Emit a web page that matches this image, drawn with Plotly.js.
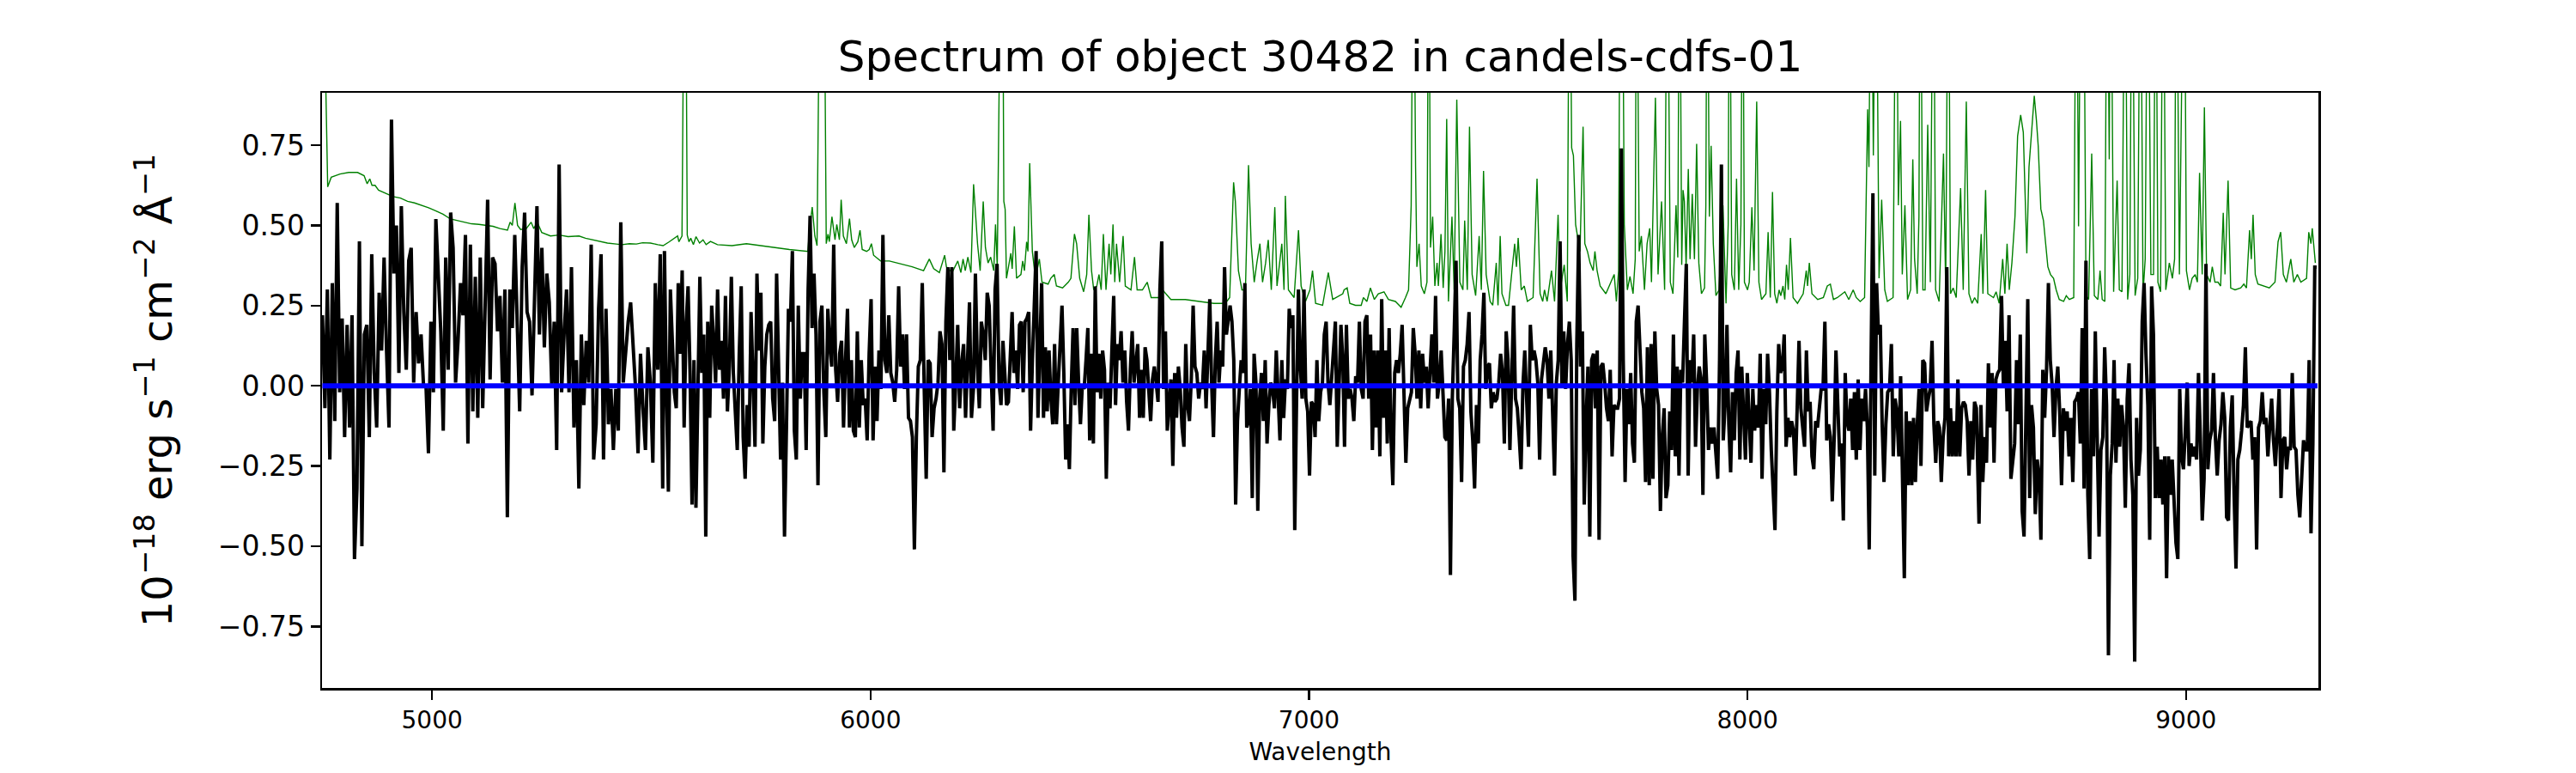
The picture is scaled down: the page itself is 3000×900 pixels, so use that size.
<!DOCTYPE html>
<html>
<head>
<meta charset="utf-8">
<script src="https://cdn.plot.ly/plotly-3.0.1.min.js"></script>
<style>html,body{margin:0;padding:0;background:#fff;}#chart{width:3000px;height:900px;}</style>
</head>
<body>
<div id="chart"></div>
<script>
// Wavelength ranges of the six read-off segments (Angstrom)
const segStart = [4750, 5530, 6306, 7081, 7852, 8528];
const segEnd   = [5526, 6302, 7077, 7848, 8522, 9298];

// Observed flux (1e-18 erg/s/cm2/A), black line, per segment
const flux1 = [0.22,-0.07,0.30,-0.23,0.32,-0.11,0.57,-0.02,0.21,-0.16,
0.19,-0.13,0.22,-0.54,-0.32,0.45,-0.50,0.16,0.19,-0.16,
0.41,0.04,-0.13,0.29,0.11,0.40,0.11,-0.13,0.83,0.35,
0.50,0.04,0.56,0.23,0.05,0.39,0.43,0.01,0.23,0.07,
0.16,0.00,0.00,-0.21,0.20,-0.02,0.52,0.35,0.17,-0.14,
0.40,0.05,0.54,0.43,0.01,0.14,0.32,0.22,0.47,-0.18,
0.44,-0.08,0.34,-0.10,0.40,-0.07,0.24,0.58,0.02,0.40,
0.38,0.17,0.28,0.01,0.30,-0.41,0.30,0.18,0.47,0.18,
-0.08,0.37,0.54,0.23,0.20,-0.03,0.29,0.56,0.16,0.43,
0.12,0.35,0.26,0.00,0.20,-0.20,0.69,-0.02,0.16,0.30,
-0.02,0.37,-0.13,0.08,-0.32,0.16,-0.06,0.14,0.01,0.44,
-0.23,-0.12,0.24,0.41,-0.23,0.24,-0.12,-0.01,-0.20,-0.01,
-0.14,0.51,0.01,0.11,0.20,0.26,0.13,-0.01,-0.21,0.10,
-0.07,-0.20,0.12,0.01,-0.24,0.32,0.05,0.41,-0.32];

const flux2 = [0.42,-0.01,-0.33,0.30,0.14,-0.02,-0.07,0.32,0.10,0.36,
-0.13,0.19,0.31,0.04,-0.37,0.08,-0.38,-0.01,0.34,0.04,
0.16,-0.47,0.20,-0.10,0.25,0.14,0.01,0.30,0.05,0.14,
-0.04,0.28,-0.08,0.06,0.34,0.04,-0.07,-0.20,0.10,0.31,
-0.16,-0.29,-0.06,-0.19,0.23,-0.01,-0.19,0.35,0.11,0.29,
-0.18,0.06,0.16,0.19,0.20,-0.04,-0.11,0.35,0.05,-0.23,
0.01,-0.47,-0.13,0.24,0.20,0.42,-0.14,-0.23,0.25,-0.04,
0.10,0.10,-0.20,0.30,0.53,0.18,0.35,0.16,-0.31,0.20,
0.25,-0.02,-0.16,0.24,0.13,0.06,0.44,0.05,-0.05,0.10,
0.14,-0.13,0.08,0.24,-0.13,0.08,-0.14,-0.16,0.17,-0.13,
0.08,-0.06,-0.04,-0.17,0.10,0.27,-0.17,0.06,-0.11,0.11,
-0.01,0.47,0.08,0.04,0.22,0.04,0.01,-0.05,0.05,0.31,
0.06,0.16,-0.01,0.16,-0.10,-0.11,-0.16,-0.51,-0.16,0.06,
0.08,0.32,-0.01,-0.29,0.08,0.07,-0.16,-0.07,-0.04,0.01,
0.17,0.13,-0.27,0.20,0.37,0.08,0.37,-0.14,0.01,0.19,
-0.07,0.07,0.13,-0.10,0.08,0.26,-0.10,-0.01,0.35,0.06,
-0.07,0.20,0.16,0.08,0.29,0.25,0.04,-0.14,0.30,0.38,
0.01,-0.06,0.14];

const flux3 = [0.04,-0.06,-0.05,0.11,0.23,0.04,0.11,-0.01,0.19,0.20,
-0.02,0.20,0.21,0.23,-0.14,0.08,0.28,0.42,-0.10,0.16,
0.32,-0.10,0.12,-0.08,0.11,-0.04,-0.12,0.13,-0.12,0.01,
0.11,0.25,0.04,-0.23,-0.12,-0.26,-0.01,0.18,-0.06,0.18,
0.01,-0.12,0.00,-0.01,0.08,0.18,-0.17,0.10,-0.18,0.31,
-0.02,0.10,-0.04,0.11,0.05,-0.29,0.01,-0.07,0.11,0.28,
-0.06,0.13,0.08,0.17,0.01,0.11,-0.05,-0.14,0.05,0.17,
0.01,0.08,0.13,-0.10,0.05,-0.10,0.12,0.08,-0.01,-0.11,
0.02,0.06,0.01,-0.05,0.30,0.45,-0.01,0.17,-0.14,-0.04,
0.02,-0.25,0.04,-0.10,0.06,-0.01,-0.13,-0.19,0.13,-0.06,
-0.11,0.02,0.25,0.06,0.04,-0.04,0.01,-0.01,0.11,-0.07,
0.08,0.27,0.01,-0.16,0.08,0.20,0.01,0.11,0.06,0.37,
0.16,0.20,0.25,0.20,0.08,-0.37,-0.11,-0.01,0.08,0.04,
0.32,-0.13,-0.11,-0.01,-0.35,0.10,0.01,-0.39,-0.04,0.04,
-0.11,0.08,-0.18,-0.06,0.01,-0.01,-0.07,0.11,-0.02,-0.17,
0.08,-0.10,0.02,-0.01,0.24,0.18,0.22,-0.45,-0.04,0.30,
0.06,-0.04,0.30,-0.04,-0.08,-0.28,-0.05,-0.06,-0.16,0.08,
-0.11,-0.02,0.01,0.16,0.20,0.01,-0.06,0.02,0.13,0.20,
-0.19,0.04,0.19,0.08];

const flux4 = [-0.19,0.19,-0.04,-0.01,-0.04,-0.11,0.03,0.01,0.20,-0.01,
-0.04,0.20,0.22,-0.04,0.16,-0.20,0.11,-0.13,0.11,-0.22,
0.27,-0.10,0.11,-0.18,0.18,-0.16,-0.31,0.04,0.08,0.04,
0.10,0.19,-0.06,-0.24,-0.07,-0.04,-0.02,0.18,0.10,-0.04,
0.11,-0.07,0.10,0.01,0.06,-0.07,0.06,0.16,0.01,0.28,
-0.04,0.01,0.11,-0.05,-0.16,-0.17,-0.04,-0.59,-0.04,0.16,
0.39,-0.04,-0.07,-0.30,0.06,0.08,0.13,0.23,-0.08,-0.17,
-0.32,-0.06,-0.18,0.08,0.16,0.29,-0.01,0.06,0.07,-0.07,
-0.02,-0.05,-0.04,0.01,0.10,0.04,-0.18,0.17,0.08,-0.20,
-0.01,0.25,-0.04,-0.07,-0.16,-0.26,0.00,0.11,-0.04,-0.19,
0.19,0.08,0.11,0.08,0.01,-0.23,0.02,0.08,0.12,0.08,
-0.04,0.11,-0.05,-0.28,0.01,0.08,0.45,0.00,0.17,-0.01,
0.13,0.20,0.08,-0.53,-0.67,0.13,0.47,0.06,0.17,-0.37,
-0.11,0.06,-0.47,0.08,0.10,-0.07,0.11,-0.48,0.06,0.07,
0.01,-0.07,-0.11,0.05,-0.22,-0.06,-0.07,-0.07,-0.04,0.74,
0.08,-0.30,-0.01,-0.12,0.04,-0.18,-0.24,0.20,0.25,0.11,
-0.02,-0.07,-0.30,0.12,-0.31,0.13,-0.29,0.17,-0.01,-0.06,
-0.39,-0.16,-0.07,-0.35,-0.31,-0.08,-0.20,0.16,-0.22,0.06,
-0.28,0.05];

const flux5 = [0.01,0.20,0.38,-0.28,0.08,0.01,0.16,-0.19,-0.01,0.06,
0.02,-0.34,0.16,0.01,-0.20,-0.13,-0.18,-0.13,-0.20,-0.29,
0.08,0.69,-0.17,-0.06,0.19,-0.12,-0.27,-0.02,-0.17,0.04,
0.11,-0.23,0.06,-0.06,-0.23,0.04,-0.10,-0.24,-0.01,-0.14,
-0.06,-0.13,0.10,-0.29,-0.01,-0.12,0.10,-0.02,-0.20,-0.34,
-0.45,-0.08,0.13,0.04,0.06,0.16,-0.19,-0.10,-0.16,-0.11,
-0.14,-0.28,-0.04,0.14,-0.07,-0.12,-0.19,0.11,-0.08,-0.05,
-0.22,-0.26,-0.11,-0.13,-0.07,-0.01,-0.01,0.20,-0.17,-0.12,
-0.16,-0.36,-0.17,0.11,-0.06,-0.22,-0.18,-0.42,0.04,-0.11,
-0.14,-0.04,-0.20,-0.02,-0.23,0.02,-0.20,-0.04,-0.11,-0.01,
-0.13,-0.51,0.08,0.60,-0.28,0.32,0.16,0.19,-0.12,-0.30,
-0.12,-0.02,-0.01,0.13,-0.22,-0.04,-0.08,-0.22,0.03,-0.25,
-0.60,-0.08,-0.31,-0.11,-0.31,-0.10,-0.30,-0.12,-0.01,-0.25,
0.08,0.07,-0.08,-0.04,-0.01,0.14,-0.12,-0.24,-0.11,-0.13,
-0.30,-0.16,-0.10,0.37,-0.22,-0.07,-0.22,-0.11,-0.22,0.02,
-0.22,-0.07,-0.05,-0.06,-0.11,-0.28,-0.11,-0.23,-0.05,-0.07];

const flux6 = [-0.43,-0.06,-0.30,-0.16,-0.24,0.07,-0.13,0.04,-0.24,0.02,
0.04,0.05,0.28,0.00,0.14,-0.08,0.22,-0.29,-0.24,-0.18,
0.08,-0.12,0.16,-0.39,-0.47,-0.04,0.27,-0.35,-0.06,-0.13,
-0.40,-0.23,-0.28,-0.48,0.05,-0.10,0.05,0.32,0.08,0.00,
-0.16,-0.01,0.06,-0.08,-0.31,-0.07,-0.14,-0.08,-0.22,-0.10,
-0.30,-0.05,-0.04,-0.02,-0.18,0.18,-0.32,0.39,-0.34,-0.54,
-0.01,-0.22,0.17,-0.16,-0.47,-0.20,-0.16,0.12,-0.06,-0.84,
-0.28,-0.18,0.08,-0.24,-0.04,-0.19,-0.06,-0.13,-0.38,-0.04,
0.07,-0.23,-0.34,-0.86,-0.10,-0.28,-0.20,0.20,0.32,0.10,
-0.06,-0.48,0.31,0.16,-0.35,-0.19,-0.35,-0.23,-0.37,-0.22,
-0.60,-0.22,-0.34,-0.23,-0.39,-0.49,-0.54,-0.01,-0.22,-0.26,
-0.14,0.01,-0.25,-0.18,-0.22,-0.19,-0.23,0.04,-0.16,-0.42,
-0.29,0.38,-0.26,-0.17,-0.14,0.04,-0.16,-0.28,-0.17,-0.12,
-0.02,-0.10,-0.41,-0.42,-0.13,-0.03,-0.34,-0.57,-0.23,-0.20,
-0.14,-0.06,0.12,-0.13,-0.12,-0.11,-0.23,-0.16,-0.51,-0.13,
-0.11,-0.02,-0.12,-0.10,-0.22,-0.12,-0.04,-0.17,-0.25,-0.14,
-0.01,-0.35,-0.17,-0.16,-0.26,-0.19,-0.20,0.04,-0.19,-0.20,
-0.34,-0.41,-0.30,-0.17,-0.20,-0.20,0.08,-0.46,-0.18,0.37,
0.37];

// Noise / sky spectrum (green line): wavelength and flux
const skyWave = [4750,4754,4762,4770,4790,4810,4830,4845,4852,4858,4863,4870,4878,4895,4911,4928,4944,4960,4976,4992,
5009,5025,5042,5058,5074,5090,5107,5123,5139,5155,5172,5178,5183,5189,5195,5202,5215,5226,5232,5240,
5250,5270,5290,5310,5335,5350,5368,5385,5400,5420,5433,5450,5466,5480,5498,5515,5527,
5541,5547,5560,5563,5570,5577,5582,5586,5590,5596,5602,5610,5618,5625,5635,5651,5684,5717,5749,5782,5815,5857,
5860,5867,5873,5878,5886,5893,5899,5903,5906,5912,5919,5923,5929,5933,5938,5945,5952,5957,5963,5971,5976,5981,
5991,5997,6002,6007,6023,6043,6075,6095,6121,6134,6144,6157,6169,6173,6186,6199,6206,6211,6216,6222,6229,6235,
6244,6250,6257,6262,6268,6274,6281,6285,6289,6294,6300,6304,6307,6310,
6320,6323,6328,6333,6343,6347,6351,6356,6359,6363,6369,6376,6385,6391,6405,6411,6419,6424,6438,6451,6457,6465,
6470,6477,6486,6493,6498,6504,6509,6516,6521,6526,6531,6537,6544,6548,6553,6557,6561,6568,6576,6581,6594,6602,
6608,6620,6631,6640,6659,6666,6685,6718,6751,6783,6809,6819,6828,6832,6839,6847,6855,6862,6868,6875,6881,6888,
6894,6901,6907,6914,6922,6927,6933,6938,6943,6946,6953,6966,6976,6982,6992,7002,7008,7015,7031,7044,7054,7077,
7080,7087,7093,7106,7119,7124,7132,7140,7149,7158,7171,7181,7197,7210,7220,7227,7233,7238,7243,7246,7251,7256,
7263,7269,7273,7277,7282,7287,7292,7295,7301,7306,7310,7314,7318,7326,7331,7337,7344,7351,7355,7361,7366,7372,
7380,7388,7393,7398,7404,7413,7419,7427,7431,7436,7440,7449,7455,7462,7469,7473,7477,7484,7491,7498,7511,7520,
7527,7533,7537,7543,7553,7560,7568,7573,7582,7589,7594,7599,7603,7608,7618,7625,7629,7635,7641,7648,7652,7657,
7664,7677,7687,7696,7701,7706,7710,7714,7719,7726,7732,7739,7744,7747,7753,7758,7765,7771,7777,7781,7790,7796,
7804,7811,7817,7824,7830,7837,7841,7845,7850,
7853,7856,7860,7865,7869,7874,7879,7884,7889,7895,7902,7905,7908,7913,7917,7922,7928,7935,7944,7951,7956,7959,
7964,7970,7975,7980,7985,7989,7993,8000,8004,8010,8015,8021,8026,8032,8042,8047,8052,8057,8062,8067,8072,8076,
8081,8085,8089,8093,8098,8104,8114,8127,8134,8137,8141,8147,8160,8173,8182,8189,8196,8205,8222,8231,8241,8248,
8257,8267,8274,8277,8282,8287,8293,8300,8306,8313,8319,8332,8339,8344,8349,8353,8359,8365,8372,8377,8381,8387,
8391,8394,8400,8405,8411,8417,8424,8429,8437,8447,8452,8458,8463,8469,8476,8486,8492,8499,8505,8512,8518,8525,
8533,8537,8543,8548,8561,8567,8574,8582,8587,8592,8597,8603,8610,8616,8623,8629,8637,8642,8649,8654,8659,8663,
8669,8675,8680,8685,8691,8698,8704,8711,8721,8727,8734,8744,8750,8755,8761,8766,8772,8778,8785,8791,8799,8804,
8809,8815,8820,8825,8828,8835,8843,8848,8854,8861,8867,8872,8877,8884,8890,8896,8902,8907,8913,8920,8926,8931,
8936,8942,8948,8954,8962,8969,8974,8978,8985,8991,8996,9001,9008,9014,9021,9026,9031,9037,9042,9047,9055,9060,
9066,9073,9079,9085,9089,9096,9102,9112,9125,9132,9138,9145,9149,9153,9158,9164,9177,9190,9203,9210,9216,9222,
9229,9239,9246,9254,9262,9275,9280,9285,9288,9295];

const skyFlux = [1.6,1.2,0.62,0.65,0.66,0.665,0.665,0.655,0.63,0.645,0.625,0.625,0.61,0.60,0.59,0.585,0.575,0.57,0.563,0.555,
0.545,0.535,0.52,0.515,0.509,0.505,0.503,0.50,0.497,0.49,0.485,0.51,0.50,0.57,0.50,0.487,0.49,0.51,0.49,0.51,
0.478,0.467,0.47,0.465,0.467,0.46,0.455,0.45,0.445,0.442,0.44,0.443,0.442,0.446,0.445,0.44,0.437,
0.449,0.455,0.467,0.449,0.467,1.8,0.47,0.449,0.46,0.44,0.465,0.445,0.455,0.44,0.45,0.44,0.437,0.443,0.437,0.431,0.425,0.419,
0.473,0.557,0.467,0.437,1.6,1.6,0.443,0.473,0.449,0.527,0.455,0.503,0.455,0.58,0.467,0.443,0.521,0.455,0.431,0.449,0.485,0.425,
0.419,0.425,0.443,0.407,0.389,0.389,0.377,0.371,0.359,0.395,0.365,0.353,0.407,0.371,0.353,0.389,0.353,0.395,0.359,0.401,0.353,0.628,
0.443,0.359,0.575,0.431,0.383,0.401,0.359,0.503,0.371,1.0,1.8,0.575,0.55,0.335,
0.413,0.365,0.497,0.335,0.347,0.389,0.359,0.449,0.419,0.694,0.419,0.335,0.395,0.323,0.317,0.335,0.347,0.311,0.305,0.323,0.335,0.473,
0.443,0.335,0.293,0.347,0.533,0.359,0.299,0.311,0.347,0.299,0.473,0.299,0.443,0.347,0.503,0.323,0.443,0.323,0.467,0.311,0.299,0.401,
0.299,0.299,0.323,0.275,0.275,0.299,0.269,0.269,0.263,0.257,0.257,0.275,0.634,0.575,0.359,0.299,0.299,0.688,0.443,0.323,0.383,0.443,
0.323,0.383,0.455,0.299,0.557,0.311,0.383,0.443,0.299,0.592,0.299,0.275,0.485,0.311,0.263,0.299,0.359,0.257,0.251,0.353,0.269,0.287,
0.299,0.305,0.257,0.251,0.251,0.275,0.263,0.305,0.269,0.287,0.293,0.269,0.263,0.245,0.275,0.299,0.563,1.6,0.682,0.371,0.443,0.311,
0.287,0.323,1.6,0.431,0.527,0.311,0.383,0.311,0.473,0.305,0.419,0.832,0.263,0.527,0.299,0.892,0.323,0.299,0.515,0.299,0.808,0.347,
0.281,0.467,0.299,0.670,0.347,0.263,0.251,0.383,0.251,0.467,0.287,0.251,0.251,0.347,0.443,0.371,0.461,0.299,0.311,0.263,0.275,0.646,
0.287,0.263,0.299,0.263,0.359,0.263,0.533,0.299,0.377,0.263,1.6,0.742,0.718,0.503,0.419,0.808,0.443,0.419,0.383,0.359,0.419,0.359,
0.311,0.287,0.317,0.347,0.263,0.359,1.6,1.6,0.503,0.299,0.341,0.287,0.395,1.6,0.419,0.467,0.299,0.443,0.491,0.323,0.898,0.347,
0.575,0.299,1.6,0.323,0.287,0.563,0.40,1.6,0.377,
0.610,0.575,0.371,0.676,0.395,0.598,0.395,0.754,0.383,0.287,0.305,0.563,1.6,0.527,0.748,0.443,0.281,0.299,0.563,0.257,0.503,1.6,
0.347,0.299,0.646,0.299,0.503,1.6,0.323,0.299,0.323,0.557,0.359,0.886,0.323,0.269,0.287,0.479,0.275,0.604,0.287,0.257,0.299,0.281,
0.311,0.269,0.377,0.299,0.461,0.275,0.257,0.287,0.359,0.311,0.383,0.287,0.269,0.275,0.311,0.317,0.269,0.275,0.293,0.269,0.299,0.275,
0.263,0.275,0.862,0.682,1.6,0.718,1.6,0.335,0.580,0.299,0.263,0.275,1.6,0.563,0.826,0.347,0.563,0.269,0.299,0.706,0.395,0.287,
0.527,1.6,0.299,0.299,0.814,0.323,1.6,0.299,0.263,0.724,0.299,1.6,0.287,0.305,0.275,0.616,0.299,0.886,0.287,0.257,0.275,0.257,
0.473,0.287,0.610,0.287,0.275,0.293,0.257,0.395,0.287,0.443,0.299,0.383,0.527,0.778,0.844,0.790,0.413,0.682,0.826,0.904,0.826,0.748,
0.551,0.515,0.443,0.371,0.347,0.335,0.299,0.269,0.263,0.281,0.269,0.275,1.6,0.497,1.6,1.6,0.281,0.269,0.724,0.281,0.269,0.359,
0.269,0.263,1.6,0.706,1.6,0.293,0.640,0.299,0.293,1.6,0.269,0.347,1.6,0.281,0.335,1.6,0.287,0.395,1.6,0.347,0.347,1.6,
0.323,0.293,1.6,0.299,0.383,0.335,0.395,1.6,0.347,1.6,1.6,0.359,0.299,0.335,0.347,0.323,0.664,0.347,0.868,0.347,0.323,0.371,
0.323,0.323,0.311,0.539,0.347,0.640,0.305,0.299,0.305,0.317,0.305,0.485,0.395,0.533,0.347,0.317,0.311,0.305,0.323,0.449,0.479,0.347,
0.323,0.395,0.323,0.347,0.323,0.335,0.479,0.443,0.491,0.383];

// Model (blue line)
const modelWave = [4750, 9300];
const modelFlux = [0, 0];

// Axis ticks
const xTicks = [5000, 6000, 7000, 8000, 9000];
const yTicks = [-0.75, -0.5, -0.25, 0, 0.25, 0.5, 0.75];

const fluxSegs = [flux1, flux2, flux3, flux4, flux5, flux6];
const wave = [], flux = [];
fluxSegs.forEach((seg, k) => {
  const n = seg.length, a = segStart[k], b = segEnd[k];
  seg.forEach((v, i) => { wave.push(a + (b - a) * i / (n - 1)); flux.push(v); });
});

const font = "DejaVu Sans, Verdana, sans-serif";
const traces = [
  {x: skyWave, y: skyFlux, type: 'scatter', mode: 'lines', line: {color: '#008000', width: 1.4}, hoverinfo: 'skip'},
  {x: wave, y: flux, type: 'scatter', mode: 'lines', line: {color: '#000000', width: 4}},
  {x: modelWave, y: modelFlux, type: 'scatter', mode: 'lines', line: {color: '#0000ff', width: 6}}
];
const layout = {
  width: 3000, height: 900,
  margin: {l: 375, r: 300, t: 108, b: 99, pad: 0},
  paper_bgcolor: '#fff', plot_bgcolor: '#fff',
  showlegend: false,
  font: {family: font, color: '#000', size: 28},
  title: {text: 'Spectrum of object 30482 in candels-cdfs-01', font: {family: font, size: 50, color: '#000'},
          x: 0.5125, xanchor: 'center', y: 0.927, yanchor: 'middle', yref: 'container'},
  xaxis: {range: [4749, 9302], tickvals: xTicks, ticktext: xTicks.map(String),
          showgrid: false, zeroline: false, showline: true, mirror: true, linecolor: '#000', linewidth: 2.5,
          ticks: 'outside', ticklen: 11, tickwidth: 2.5, tickcolor: '#000',
          tickfont: {family: font, size: 28, color: '#000'},
          title: {text: 'Wavelength', font: {family: font, size: 28, color: '#000'}, standoff: 12}},
  yaxis: {range: [-0.942, 0.9135], tickvals: yTicks, tickformat: '.2f',
          showgrid: false, zeroline: false, showline: true, mirror: true, linecolor: '#000', linewidth: 2.5,
          ticks: 'outside', ticklen: 11, tickwidth: 2.5, tickcolor: '#000',
          tickfont: {family: font, size: 33, color: '#000'},
          title: {text: '10<sup>−18</sup> erg s<sup>−1</sup> cm<sup>−2</sup> Å<sup>−1</sup>', font: {family: font, size: 48, color: '#000'}, standoff: 38}}
};
Plotly.newPlot('chart', traces, layout, {staticPlot: true, displayModeBar: false});
</script>
</body>
</html>
